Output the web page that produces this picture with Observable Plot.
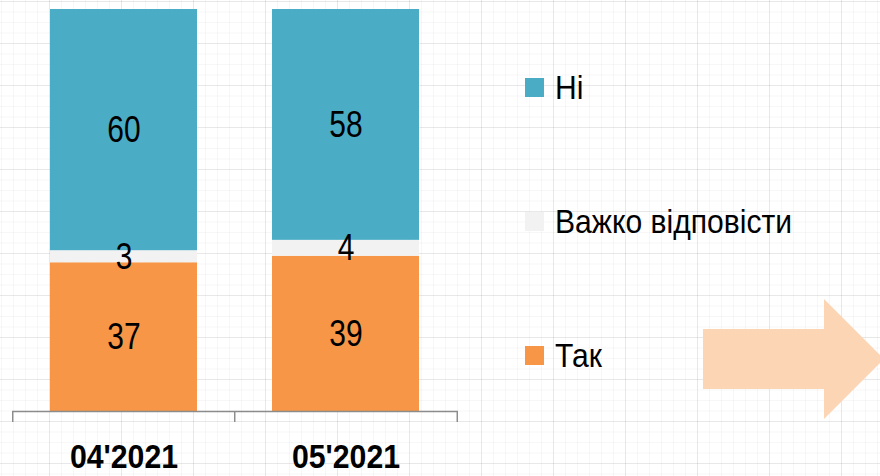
<!DOCTYPE html>
<html>
<head>
<meta charset="utf-8">
<script src="https://cdn.jsdelivr.net/npm/d3@7"></script>
<script src="https://cdn.jsdelivr.net/npm/@observablehq/plot@0.6"></script>
<style>
  html, body { margin: 0; padding: 0; background: #fff; }
  #wrap {
    position: relative; width: 880px; height: 476px; overflow: hidden;
    font-family: "Liberation Sans", Arial, sans-serif;
    background-color: #fff;
    background-image:
      linear-gradient(rgba(0,0,0,0.06) 1px, transparent 1px),
      linear-gradient(90deg, rgba(0,0,0,0.06) 1px, transparent 1px),
      linear-gradient(rgba(0,0,0,0.03) 1px, transparent 1px),
      linear-gradient(90deg, rgba(0,0,0,0.03) 1px, transparent 1px);
    background-size: 72px 42px, 72px 42px, 12px 10.5px, 12px 10.5px;
    background-position: 49px 1px, 49px 1px, 1px 1px, 1px 1px;
  }
  #wrap svg.plot { position: absolute; left: 0; top: 0; background: transparent; }
  .legend-item { position: absolute; left: 525px; height: 40px; display: flex; align-items: center; font-size: 34px; color: #000; white-space: nowrap; }
  .legend-item .sw { width: 19px; height: 19px; margin-right: 11px; flex: none; }
  .legend-item .lt { display: inline-block; transform: scaleX(0.885); transform-origin: 0 50%; }
  #arrow { position: absolute; left: 0; top: 0; }
</style>
</head>
<body>
<div id="wrap"></div>
<script>
// ---- data ----
const periods = ["04'2021", "05'2021"];
const answers = ["Так", "Важко відповісти", "Ні"];
const takValues = [37, 39];
const vazhkoValues = [3, 4];
const niValues = [60, 58];
const answerColors = ["#F79646", "#F2F2F2", "#4BACC6"];
const legendOrder = ["Ні", "Важко відповісти", "Так"];

const seriesValues = [takValues, vazhkoValues, niValues];
const rows = [];
periods.forEach((p, i) => {
  answers.forEach((a, j) => rows.push({period: p, answer: a, value: seriesValues[j][i]}));
});

const W = 880, H = 476;
const mL = 12, mR = 422, mT = 9, mB = 65;
const pInner = 0.336, pOuter = 0.17;
const step = (W - mL - mR) / (periods.length - pInner + 2 * pOuter);
const tickLen = 11 / (H - mT - mB);

const font = '"Liberation Sans", Arial, sans-serif';

const chart = Plot.plot({
  width: W, height: H,
  marginLeft: mL, marginRight: mR, marginTop: mT, marginBottom: mB,
  style: {fontFamily: font, background: "transparent", overflow: "visible"},
  x: {domain: periods, paddingInner: pInner, paddingOuter: pOuter, label: null},
  y: {domain: [0, 1], axis: null},
  color: {domain: answers, range: answerColors},
  marks: [
    Plot.barY(rows, Plot.stackY({x: "period", y: "value", z: "answer", fill: "answer", offset: "normalize", order: null})),
    Plot.text(rows, Plot.stackY({x: "period", y: "value", z: "answer", text: "value", offset: "normalize", order: null,
      fontSize: 37, fill: "#000", className: "vlabel"})),
    Plot.ruleY([0], {stroke: "#8c8c8c", strokeWidth: 1.5}),
    Plot.ruleX(periods, {x: d => d, y1: 0, y2: -tickLen, stroke: "#8c8c8c", strokeWidth: 1.5, dx: -step / 2}),
    Plot.ruleX([periods[periods.length - 1]], {x: d => d, y1: 0, y2: -tickLen, stroke: "#8c8c8c", strokeWidth: 1.5, dx: step / 2}),
    Plot.axisX({tickSize: 0, tickPadding: 32, fontSize: 34, fontWeight: "bold", fill: "#000", label: null, className: "xlab"})
  ]
});
const wrap = document.getElementById("wrap");
wrap.appendChild(chart);

// narrow the value labels and category labels (Arial Narrow look)
function narrow(sel, s) {
  chart.querySelectorAll(sel).forEach(el => {
    const b = el.getBBox();
    const cx = b.x + b.width / 2;
    const ex = el.getAttribute("transform") || "";
    el.setAttribute("transform", `${ex} translate(${cx},0) scale(${s},1) translate(${-cx},0)`);
  });
}
narrow(".vlabel text", 0.81);
narrow(".xlab text", 0.89);

// legend
const legendCenters = [87.5, 221, 355.5];
legendOrder.forEach((a, i) => {
  const d = document.createElement("div");
  d.className = "legend-item";
  d.style.top = (legendCenters[i] - 20) + "px";
  const sw = document.createElement("span");
  sw.className = "sw";
  sw.style.background = answerColors[answers.indexOf(a)];
  const t = document.createElement("span");
  t.className = "lt";
  t.textContent = a;
  d.appendChild(sw); d.appendChild(t);
  wrap.appendChild(d);
});

// decorative arrow
const ns = "http://www.w3.org/2000/svg";
const svg = document.createElementNS(ns, "svg");
svg.setAttribute("id", "arrow");
svg.setAttribute("width", W); svg.setAttribute("height", H);
const poly = document.createElementNS(ns, "polygon");
poly.setAttribute("points", "703,329 824,329 824,299 884,359 824,419 824,389 703,389");
poly.setAttribute("fill", "#FCD5B5");
svg.appendChild(poly);
wrap.appendChild(svg);
</script>
</body>
</html>
